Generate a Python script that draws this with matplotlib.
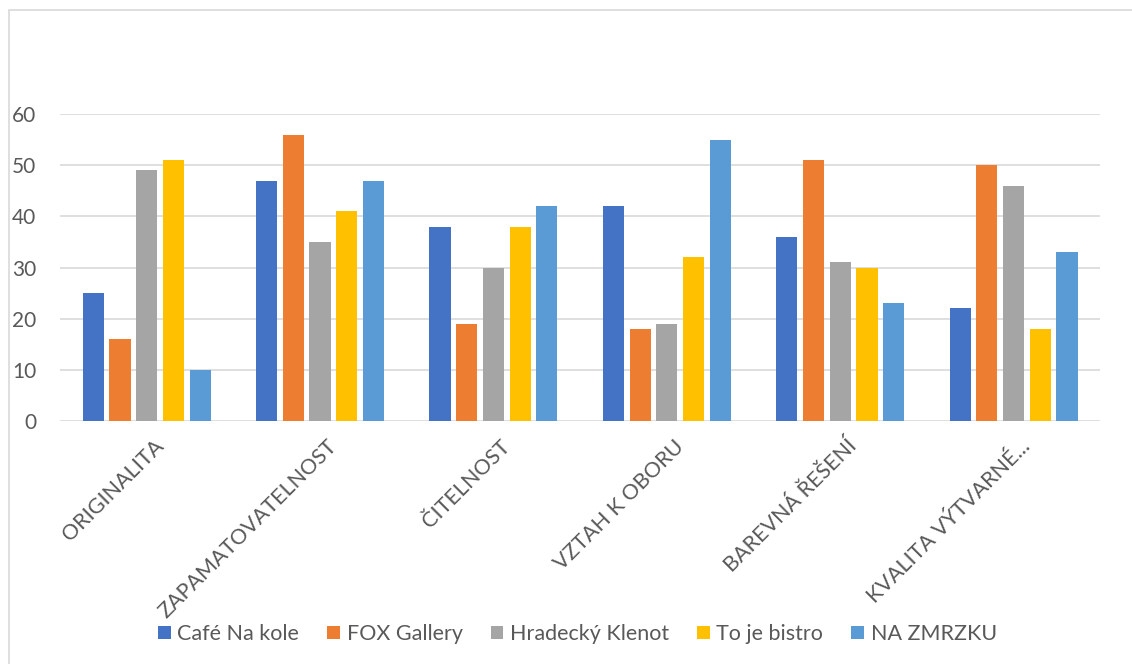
import numpy as np
import matplotlib.pyplot as plt
from matplotlib.patches import Rectangle

plt.rcParams['font.family'] = ['Lato', 'DejaVu Sans']

categories = ['ORIGINALITA', 'ZAPAMATOVATELNOST', 'ČITELNOST',
              'VZTAH K OBORU', 'BAREVNÁ ŘEŠENÍ', 'KVALITA VÝTVARNÉ...']
series_names = ['Café Na kole', 'FOX Gallery', 'Hradecký Klenot', 'To je bistro', 'NA ZMRZKU']
cafe_na_kole = [25, 47, 38, 42, 36, 22]
fox_gallery = [16, 56, 19, 18, 51, 50]
hradecky_klenot = [49, 35, 30, 19, 31, 46]
to_je_bistro = [51, 41, 38, 32, 30, 18]
na_zmrzku = [10, 47, 42, 55, 23, 33]
colors = ['#4472C4', '#ED7D31', '#A5A5A5', '#FFC000', '#5B9BD5']

fig = plt.figure(figsize=(11.32, 6.64), dpi=100)
ax = fig.add_axes([0.053, 0.366, 0.919, 0.462])

# chart border (cropped on right and bottom)
fig.patches.append(Rectangle((9 / 1132, -0.1), 1.2, (664 - 10) / 664 + 0.1,
                             transform=fig.transFigure, fill=False,
                             edgecolor='#D9D9D9', linewidth=1.2))

x = np.arange(len(categories))
pitch = 0.154
all_series = [cafe_na_kole, fox_gallery, hradecky_klenot, to_je_bistro, na_zmrzku]
for i, (vals, name, c) in enumerate(zip(all_series, series_names, colors)):
    ax.bar(x + (i - 2) * pitch, vals, width=0.122, color=c, label=name, zorder=3)

ax.set_xlim(-0.5, len(categories) - 0.5)
ax.set_ylim(0, 60)
ax.set_yticks(range(0, 61, 10))
ax.grid(axis='y', color='#D9D9D9', linewidth=1.2, zorder=0)
for s in ax.spines.values():
    s.set_visible(False)
ax.tick_params(axis='both', length=0, labelsize=15, colors='#595959')
ax.tick_params(axis='y', pad=17)

ax.set_xticks(x + 0.08)
ax.set_xticklabels(categories, rotation=45, ha='right', va='center',
                   rotation_mode='anchor', fontsize=15.5, color='#595959')
ax.tick_params(axis='x', pad=16)

leg = fig.legend(loc='center', bbox_to_anchor=(0.51, 0.045), ncol=5, frameon=False,
                 fontsize=15.5, handlelength=0.6, handleheight=0.6,
                 handletextpad=0.3, columnspacing=1.3)
for t in leg.get_texts():
    t.set_color('#595959')

fig.savefig('out.png', dpi=100)
